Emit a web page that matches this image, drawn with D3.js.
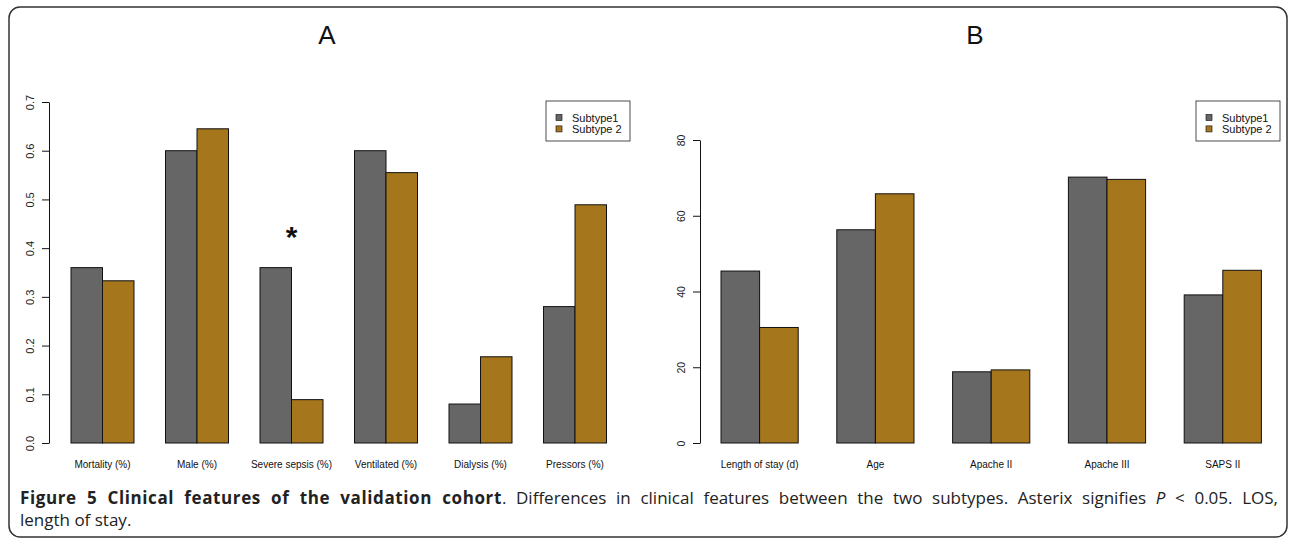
<!DOCTYPE html>
<html>
<head>
<meta charset="utf-8">
<script src="https://d3js.org/d3.v7.min.js"></script>
<style>
  body { margin: 0; background: #fff; }
  svg { display: block; }
  .tick text { font-family: "Liberation Sans", Arial, sans-serif; }
</style>
</head>
<body>
<div id="chart"></div>
<script>
// chart values
var series = ["Subtype1", "Subtype 2"];
var colors = ["#666666", "#A6761D"];

var catsA = ["Mortality (%)", "Male (%)", "Severe sepsis (%)", "Ventilated (%)", "Dialysis (%)", "Pressors (%)"];
var sub1A = [0.36, 0.60, 0.36, 0.60, 0.08, 0.28];
var sub2A = [0.333, 0.645, 0.089, 0.555, 0.177, 0.489];
var ticksA = [0, 0.1, 0.2, 0.3, 0.4, 0.5, 0.6, 0.7];
var starA = ["Severe sepsis (%)"];

var catsB = ["Length of stay (d)", "Age", "Apache II", "Apache III", "SAPS II"];
var sub1B = [45.4, 56.3, 18.8, 70.2, 39.1];
var sub2B = [30.5, 65.8, 19.3, 69.6, 45.6];
var ticksB = [0, 20, 40, 60, 80];

var svgWidth = 1293;
var svgHeight = 544;

var svg = d3.select("#chart")
  .append("svg")
  .attr("width", svgWidth)
  .attr("height", svgHeight);

// outer frame
svg.append("rect")
  .attr("x", 9).attr("y", 7)
  .attr("width", 1278).attr("height", 530)
  .attr("rx", 11).attr("ry", 11)
  .attr("fill", "none")
  .attr("stroke", "#333")
  .attr("stroke-width", 1.5);

// draw one barplot panel
function panel(opt) {
  var g = svg.append("g");
  var rows = opt.cats.map(function(c, i) {
    return { cat: c, vals: [opt.s1[i], opt.s2[i]] };
  });

  var x = d3.scaleBand()
    .domain(opt.cats)
    .range(opt.xRange)
    .paddingInner(1 / 3)
    .paddingOuter(1 / 3);
  var xs = d3.scaleBand()
    .domain(series)
    .range([0, x.bandwidth()]);
  var y = d3.scaleLinear()
    .domain(opt.yDomain)
    .range([443, opt.yTop]);

  // bars
  var grp = g.selectAll("g.grp").data(rows).enter()
    .append("g")
    .attr("class", "grp")
    .attr("transform", function(d) { return "translate(" + x(d.cat) + ",0)"; });
  grp.selectAll("rect")
    .data(function(d) { return d.vals.map(function(v, j) { return { s: series[j], v: v, j: j }; }); })
    .enter().append("rect")
    .attr("x", function(d) { return xs(d.s); })
    .attr("width", xs.bandwidth())
    .attr("y", function(d) { return y(d.v); })
    .attr("height", function(d) { return y(0) - y(d.v); })
    .attr("fill", function(d) { return colors[d.j]; })
    .attr("stroke", "#111")
    .attr("stroke-width", 1);

  // category labels
  g.selectAll("text.cat").data(opt.cats).enter()
    .append("text")
    .attr("class", "cat")
    .attr("x", function(d) { return x(d) + x.bandwidth() / 2; })
    .attr("y", 468)
    .attr("text-anchor", "middle")
    .attr("font-family", "Liberation Sans, Arial, sans-serif")
    .attr("font-size", 10)
    .attr("fill", "#111")
    .text(function(d) { return d; });

  // y axis, labels parallel to the axis like R
  var yAxis = d3.axisLeft(y)
    .tickValues(opt.ticks)
    .tickFormat(opt.fmt)
    .tickSize(7)
    .tickSizeOuter(0);
  var ax = g.append("g")
    .attr("transform", "translate(" + opt.axisX + ",0)")
    .call(yAxis);
  ax.select(".domain").attr("stroke", "#111");
  ax.selectAll(".tick line").attr("stroke", "#111");
  ax.selectAll(".tick text")
    .attr("x", null).attr("dy", null)
    .attr("transform", "translate(-15,0) rotate(-90)")
    .attr("text-anchor", "middle")
    .attr("font-size", opt.tickFont)
    .attr("fill", "#222");

  // panel letter
  g.append("text")
    .attr("x", opt.titleX).attr("y", 44)
    .attr("text-anchor", "middle")
    .attr("font-family", "Liberation Sans, Arial, sans-serif")
    .attr("font-size", 26)
    .attr("fill", "#111")
    .text(opt.title);

  // significance marks
  g.selectAll("text.star").data(opt.stars).enter()
    .append("text")
    .attr("class", "star")
    .attr("x", function(d) { return x(d) + xs.bandwidth(); })
    .attr("y", function(d) { return y(opt.s1[opt.cats.indexOf(d)]) + 11; })
    .attr("dy", "-1.05em")
    .attr("text-anchor", "middle")
    .attr("font-family", "Liberation Sans, Arial, sans-serif")
    .attr("font-size", 30)
    .attr("font-weight", "bold")
    .attr("fill", "#111")
    .text("*");

  // legend
  var lg = g.append("g").attr("transform", "translate(" + opt.legendX + ",101)");
  lg.append("rect")
    .attr("width", 84).attr("height", 40)
    .attr("fill", "#fff")
    .attr("stroke", "#222")
    .attr("stroke-width", 0.8);
  var item = lg.selectAll("g.item").data(series).enter()
    .append("g")
    .attr("class", "item")
    .attr("transform", function(d, i) { return "translate(0," + (16.5 + i * 11.4) + ")"; });
  item.append("rect")
    .attr("x", 10).attr("y", -3)
    .attr("width", 6).attr("height", 6)
    .attr("fill", function(d, i) { return colors[i]; })
    .attr("stroke", "#222")
    .attr("stroke-width", 0.7);
  item.append("text")
    .attr("x", 26).attr("y", 4)
    .attr("font-family", "Liberation Sans, Arial, sans-serif")
    .attr("font-size", 11)
    .attr("fill", "#111")
    .text(function(d) { return d; });
}

panel({
  cats: catsA, s1: sub1A, s2: sub2A, ticks: ticksA, stars: starA,
  fmt: d3.format(".1f"), xRange: [39.5, 39.5 + 19 * 31.5],
  yDomain: [0, 0.7], yTop: 102, axisX: 49, tickFont: 11,
  title: "A", titleX: 327, legendX: 546
});
panel({
  cats: catsB, s1: sub1B, s2: sub2B, ticks: ticksB, stars: [],
  fmt: d3.format("d"), xRange: [682.4, 682.4 + 16 * 38.6],
  yDomain: [0, 80], yTop: 140, axisX: 700, tickFont: 10.5,
  title: "B", titleX: 975, legendX: 1196
});

// caption, first line justified
var capFont = "Open Sans, Noto Sans, sans-serif";
var cap1 = svg.append("text")
  .attr("x", 20).attr("y", 504)
  .attr("font-family", capFont)
  .attr("font-size", 17)
  .attr("fill", "#222");
cap1.append("tspan").attr("font-weight", "bold")
  .attr("letter-spacing", 0.6)
  .text("Figure 5 Clinical features of the validation cohort");
cap1.append("tspan")
  .text(". Differences in clinical features between the two subtypes. Asterix signifies ");
cap1.append("tspan").attr("font-style", "italic").text("P");
cap1.append("tspan").text(" < 0.05. LOS,");

var natural = cap1.node().getComputedTextLength();
var gaps = cap1.text().split(" ").length - 1;
cap1.attr("word-spacing", Math.max(0, (1278 - 20 - natural) / gaps));

svg.append("text")
  .attr("x", 20).attr("y", 526)
  .attr("font-family", capFont)
  .attr("font-size", 17)
  .attr("fill", "#222")
  .text("length of stay.");
</script>
</body>
</html>
